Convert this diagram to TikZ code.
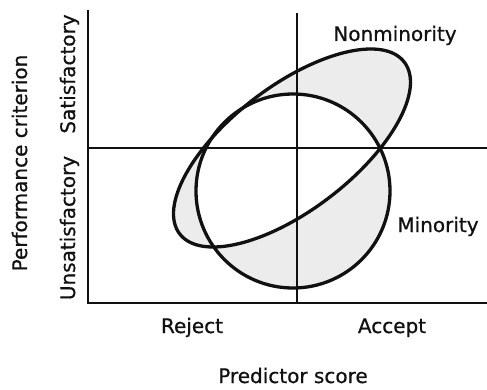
\documentclass[tikz,border=0pt]{standalone}
\usepackage{fontspec}
\setmainfont{DejaVu Sans}
\newfontfamily\lblfont{DejaVu Sans}[FakeBold=0.7]
\usetikzlibrary{positioning}
\definecolor{band}{HTML}{ECECEC}
\definecolor{ink}{HTML}{111111}

\begin{document}
\begin{tikzpicture}[
    x=1pt, y=-1pt,
    lbl/.style={font=\lblfont\fontsize{20}{24}\selectfont, inner sep=0pt, anchor=base, text=ink},
    vlbl/.style={lbl, rotate=90},
    axis/.style={line width=1.9pt, draw=ink},
    curve/.style={line width=3.3pt, draw=ink}
  ]
    \useasboundingbox (0,0) rectangle (487,390);
    % axes and cut-off lines
    \coordinate (top) at (88,10);
    \coordinate (origin) at (88,303);
    \coordinate (right) at (487,303);
    \coordinate (cuttop) at (297,13);
    \coordinate (cutbot) at (297,303);
    \coordinate (midleft) at (88,148);
    \coordinate (midright) at (487,148);
    \coordinate (nonmin) at (292,148);
    \coordinate (min) at (293,191);
    % shaded difference of the two groups
    \fill[band, even odd rule, rotate around={37.4:(nonmin)}]
      (nonmin) ellipse [x radius=141.4pt, y radius=62pt]
      (min) circle [radius=97pt];
    \draw[axis] (top) -- (origin) -- (right);
    \draw[axis] (cuttop) -- (cutbot);
    \draw[axis] (midleft) -- (midright);
    \draw[curve, rotate around={37.4:(nonmin)}] (nonmin) ellipse [x radius=141.4pt, y radius=62pt];
    \draw[curve] (min) circle [radius=97pt];
    % labels
    \node[lbl] (nonminlbl) at (395,41) {Nonminority};
    \node[lbl] (minlbl) at (438,232) {Minority};
    \node[lbl] (reject) at (192,333) {Reject};
    \node[lbl] (accept) at (392,333) {Accept};
    \node[lbl] (xlabel) at (293,383) {Predictor score};
    \node[vlbl] (ylabel) at (27,163) {Performance criterion};
    \node[vlbl] (sat) at (75,74) {Satisfactory};
    \node[vlbl] (unsat) at (75,228) {Unsatisfactory};
  \end{tikzpicture}
\end{document}
